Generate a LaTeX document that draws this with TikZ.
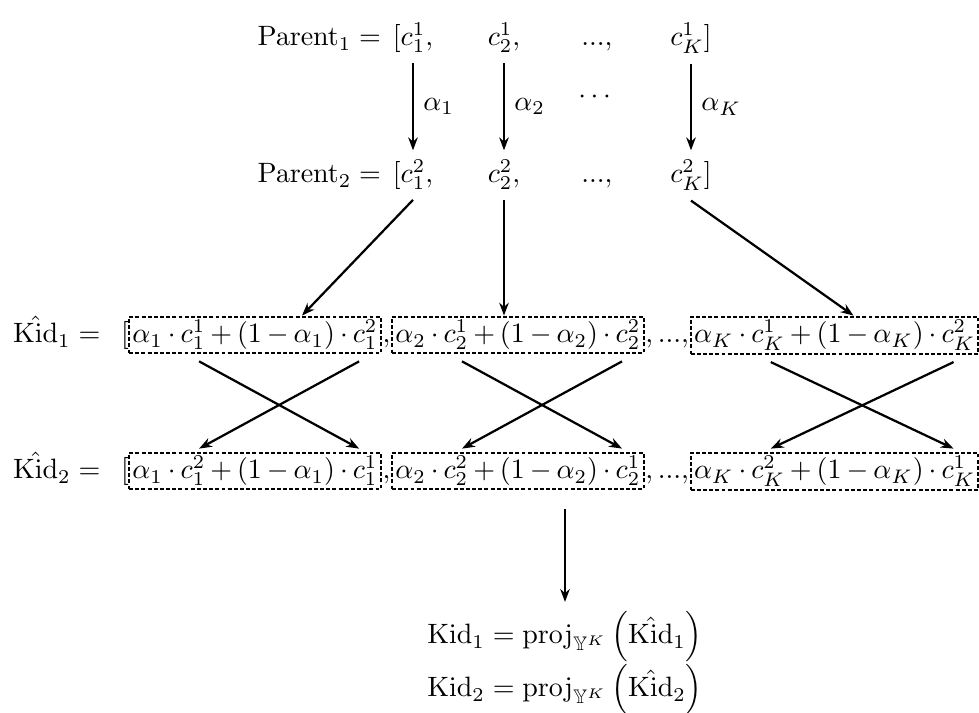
\documentclass[tikz,border=0pt]{standalone}
\usepackage{amsmath,amssymb}
\usetikzlibrary{arrows.meta,positioning,calc}

\tikzset{
  arr/.style={-{Stealth[length=4.6pt,width=3.4pt]},thick},
  mixbox/.style={draw,thick,dash pattern=on 1.4pt off 0.8pt,inner sep=1.2pt,
    execute at begin node={\medmuskip=3.2mu}},
  punct/.style={inner sep=0pt},
}

\begin{document}
\begin{tikzpicture}[x=0.3571pt,y=-0.3571pt]
  \useasboundingbox (0,0) rectangle (979,713);
  % parents
  \foreach \r/\y in {1/46,2/183} {
    \node[anchor=base] (p\r1) at (413,\y) {$[c^\r_1,$};
    \node[anchor=base] (p\r2) at (504,\y) {$c^\r_2,$};
    \node[anchor=base] (p\r3) at (597,\y) {$...,$};
    \node[anchor=base] (p\r4) at (691,\y) {$c^\r_K]$};
    \node[punct,anchor=base east] (lp\r) at ([xshift=-0.5pt]p\r1.base west) {$\mathrm{Parent}_\r =$};
  }
  \draw[arr] (p11) -- node[right] {$\alpha_1$} (p21);
  \draw[arr] (p12) -- node[right] {$\alpha_2$} (p22);
  \draw[arr] (p14) -- node[right] {$\alpha_K$} (p24);
  \node at ($(p13.base)!0.5!(p23.base)+(0,-17)$) {$\cdots$};
  % kids before projection
  \foreach \r/\y/\a/\b in {1/335/1/2,2/471/2/1} {
    \node[mixbox,anchor=west] (k\r1) at (128,\y) {$\alpha_1\cdot c^\a_1+(1-\alpha_1)\cdot c^\b_1$};
    \node[punct,anchor=base west] (ka\r) at (k\r1.base east) {$,$};
    \node[mixbox,anchor=base west] (k\r2) at (ka\r.base east) {$\alpha_2\cdot c^\a_2+(1-\alpha_2)\cdot c^\b_2$};
    \node[punct,anchor=base west] (kb\r) at (k\r2.base east) {$,...,$};
    \node[mixbox,anchor=base west] (k\r3) at (kb\r.base east) {$\alpha_K\cdot c^\a_K+(1-\alpha_K)\cdot c^\b_K$};
    \node[punct,anchor=base east] (kl\r) at ([xshift=0.5pt]k\r1.base west) {$[$};
    \node[punct,anchor=base west] (kr\r) at ([xshift=-0.5pt]k\r3.base east) {$]$};
    \node[punct,anchor=base east] (lk\r) at ([xshift=-7pt]kl\r.base west) {$\hat{\mathrm{Kid}}_\r =$};
  }
  \draw[arr] (p21.south) -- ($(k11.north west)!0.685!(k11.north east)$);
  \draw[arr] (p22.south) -- (p22.south |- k12.north);
  \draw[arr] (p24.south) -- ($(k13.north west)!0.565!(k13.north east)$);
  % crossover
  \foreach \c in {1,2,3} {
    \draw[arr] ($(k1\c.south west)!0.28!(k1\c.south east)+(0,7)$) -- ($(k2\c.north west)!0.91!(k2\c.north east)+(0,-3)$);
    \draw[arr] ($(k1\c.south west)!0.91!(k1\c.south east)+(0,7)$) -- ($(k2\c.north west)!0.28!(k2\c.north east)+(0,-3)$);
  }
  % projection
  \node (kid1) at (565,637) {$\mathrm{Kid}_1 = \operatorname{proj}_{\mathbb{Y}^K}\left(\hat{\mathrm{Kid}}_1\right)$};
  \node (kid2) at (565,690) {$\mathrm{Kid}_2 = \operatorname{proj}_{\mathbb{Y}^K}\left(\hat{\mathrm{Kid}}_2\right)$};
  \draw[arr] ($(kid1.north |- k22.south)+(0,19)$) -- (kid1.north);
\end{tikzpicture}
\end{document}
